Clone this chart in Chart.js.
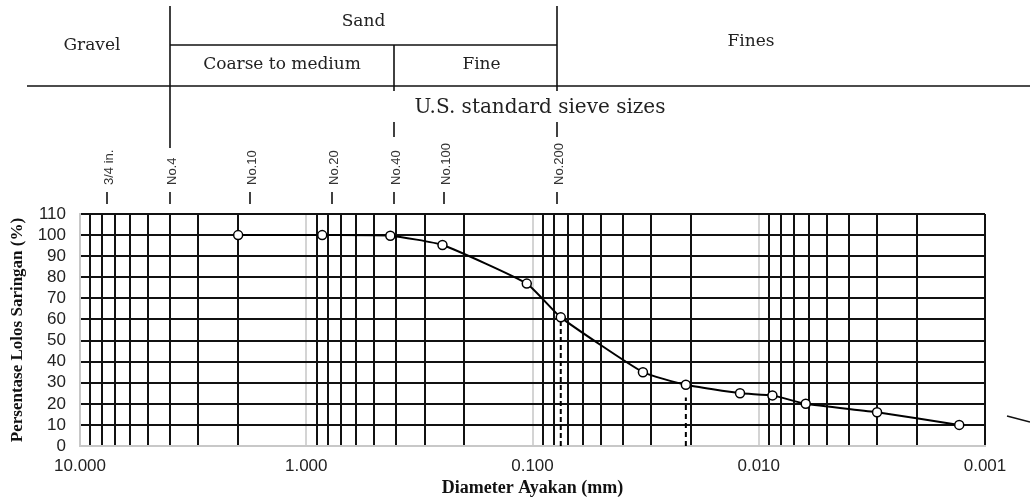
<!DOCTYPE html>
<html>
<head>
<meta charset="utf-8">
<script src="https://cdn.jsdelivr.net/npm/chart.js@4/dist/chart.umd.min.js"></script>
<style>
  html, body { margin: 0; padding: 0; background: #fff; }
  #wrap { width: 1030px; height: 500px; position: relative; }
</style>
</head>
<body>
<div id="wrap"><canvas id="myChart" width="1030" height="500"></canvas></div>
<script>
// grain size data (mm vs % passing)
const diameters = [2.0, 0.85, 0.425, 0.25, 0.106, 0.075, 0.0325, 0.021, 0.0121, 0.0087, 0.0062, 0.003, 0.0013];
const passing = [100, 100, 99.7, 95.3, 77, 61, 35, 29, 25, 24, 20, 16, 10];

// dashed markers
const d60 = [0.075, 61];
const d30 = [0.021, 23];

// sieve labels on top
const sieveNames = ["3/4 in.", "No.4", "No.10", "No.20", "No.40", "No.100", "No.200"];
const sieveSizes = [7.6, 4.0, 1.77, 0.77, 0.41, 0.247, 0.078];

// axis ticks
const yTicks = [0, 10, 20, 30, 40, 50, 60, 70, 80, 90, 100, 110];
const decades = [10, 1, 0.1, 0.01, 0.001];

const serif = "'DejaVu Serif', serif";
const sans = "'Liberation Sans', Arial, sans-serif";
const titleSerif = "'Liberation Serif', 'Times New Roman', serif";

// header table + sieve markers
const headerPlugin = {
  id: "header",
  afterDraw(chart) {
    const ctx = chart.ctx;
    const sx = chart.scales.x;
    const px = (v) => Math.round(sx.getPixelForValue(v));
    const xGS = px(sieveSizes[1]);
    const xCF = px(sieveSizes[4]);
    const xSF = px(sieveSizes[6]);

    ctx.save();
    ctx.strokeStyle = "#111";
    ctx.lineWidth = 1.6;
    const line = (x1, y1, x2, y2) => {
      ctx.beginPath();
      ctx.moveTo(x1, y1);
      ctx.lineTo(x2, y2);
      ctx.stroke();
    };
    line(27, 86, 1030, 86);
    line(xGS, 45, xSF, 45);
    line(xGS, 6, xGS, 148);
    line(xCF, 45, xCF, 91);
    line(xSF, 6, xSF, 91);
    line(xCF, 122, xCF, 137);
    line(xSF, 122, xSF, 137);

    ctx.fillStyle = "#222";
    ctx.textAlign = "center";
    ctx.textBaseline = "middle";
    ctx.font = "17px " + serif;
    ctx.fillText("Gravel", 92, 46);
    ctx.fillText("Sand", (xGS + xSF) / 2, 22);
    ctx.fillText("Coarse to medium", (xGS + xCF) / 2, 65);
    ctx.fillText("Fine", (xCF + xSF) / 2 + 6, 65);
    ctx.fillText("Fines", 751, 42);
    ctx.font = "20px " + serif;
    ctx.fillText("U.S. standard sieve sizes", 540, 108);

    // sieve ticks and rotated names
    ctx.font = "13px " + sans;
    ctx.fillStyle = "#333";
    sieveSizes.forEach((s, i) => {
      const x = px(s);
      line(x, 192, x, 204);
      ctx.save();
      ctx.translate(x + 2, 185);
      ctx.rotate(-Math.PI / 2);
      ctx.textAlign = "left";
      ctx.fillText(sieveNames[i], 0, 0);
      ctx.restore();
    });

    // stray mark at right edge
    line(1007, 416, 1030, 422);
    ctx.restore();
  },
};

const data = {
  datasets: [
    {
      label: "Gradasi",
      data: diameters.map((d, i) => ({ x: d, y: passing[i] })),
      borderColor: "#000",
      borderWidth: 2,
      tension: 0.15,
      pointRadius: 4.5,
      pointBackgroundColor: "#fff",
      pointBorderColor: "#000",
      pointBorderWidth: 1.5,
      order: 0,
    },
    {
      label: "D60",
      data: [{ x: d60[0], y: 0 }, { x: d60[0], y: d60[1] }],
      borderColor: "#000",
      borderWidth: 2,
      borderDash: [5, 3],
      pointRadius: 0,
      order: 1,
    },
    {
      label: "D30",
      data: [{ x: d30[0], y: 0 }, { x: d30[0], y: d30[1] }],
      borderColor: "#000",
      borderWidth: 2,
      borderDash: [5, 4],
      pointRadius: 0,
      order: 1,
    },
  ],
};

const isDecade = (v) => decades.some((d) => Math.abs(v - d) < d * 1e-6);

const config = {
  type: "line",
  data,
  options: {
    responsive: false,
    animation: false,
    layout: { padding: { top: 214, right: 45, left: 0, bottom: 0 } },
    plugins: { legend: { display: false }, tooltip: { enabled: false } },
    scales: {
      x: {
        type: "logarithmic",
        reverse: true,
        min: 0.001,
        max: 10,
        afterBuildTicks: (scale) => {
          const t = [];
          for (let k = 0; k < decades.length - 1; k++) {
            const base = decades[k + 1];
            for (let m = 1; m <= 9; m++) t.push({ value: +(base * m).toPrecision(6) });
          }
          t.push({ value: 10 });
          scale.ticks = t;
        },
        afterFit: (scale) => { scale.height = 54; },
        grid: {
          drawTicks: false,
          lineWidth: 2,
          color: (c) => {
            const v = c.tick ? c.tick.value : 0;
            if (isDecade(v) && v > 0.0015) return "#d4d4d4";
            return "#111";
          },
        },
        border: { color: "#c8c8c8", width: 2 },
        ticks: {
          autoSkip: false,
          maxRotation: 0,
          padding: 10,
          color: "#222",
          font: { family: sans, size: 17 },
          callback: (v) => (isDecade(v) ? Number(v).toFixed(3) : ""),
        },
        title: {
          display: true,
          text: "Diameter Ayakan (mm)",
          color: "#111",
          font: { family: titleSerif, size: 18, weight: "bold" },
          padding: { top: 0, bottom: 1 },
        },
      },
      y: {
        min: 0,
        max: 110,
        afterBuildTicks: (scale) => { scale.ticks = yTicks.map((v) => ({ value: v })); },
        afterFit: (scale) => { scale.width = 80; },
        grid: {
          drawTicks: false,
          lineWidth: 2,
          color: (c) => (c.tick && c.tick.value === 0 ? "#c8c8c8" : "#111"),
        },
        border: { color: "#c8c8c8", width: 2 },
        ticks: {
          autoSkip: false,
          stepSize: 10,
          padding: 14,
          color: "#222",
          font: { family: sans, size: 17 },
        },
        title: {
          display: true,
          text: "Persentase Lolos Saringan (%)",
          color: "#111",
          font: { family: titleSerif, size: 17, weight: "bold" },
          padding: { top: 7, bottom: 0 },
        },
      },
    },
  },
  plugins: [headerPlugin],
};

const myChart = new Chart(document.getElementById("myChart"), config);
</script>
</body>
</html>
